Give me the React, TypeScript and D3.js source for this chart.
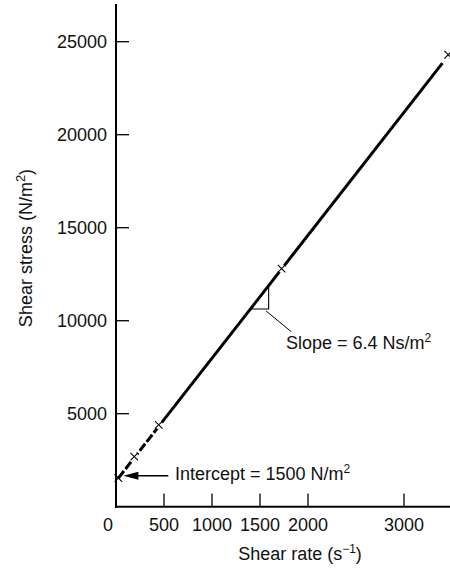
import React from "react";
import * as d3 from "d3";

const shearRate = [25, 190, 445, 1725, 3460];
const shearStress = [1540, 2690, 4400, 12800, 24300];
const fitRate = [25, 3400];
const fitStress = [1540, 23850];
const xTicks = [0, 500, 1000, 1500, 2000, 3000];
const yTicks = [5000, 10000, 15000, 20000, 25000];
const slopeRange = [1400, 1590];
const interceptValue = 1500;
const slopeValue = 6.4;

const W = 450;
const H = 568;
const FONT = "'Liberation Sans', Arial, Helvetica, sans-serif";

export default function App() {
  const x = d3.scaleLinear().domain([0, 3000]).range([116, 404]);
  const y = d3.scaleLinear().domain([0, 25000]).range([506.7, 41.7]);
  const fit = d3.scaleLinear().domain(fitRate).range(fitStress);
  const line = d3
    .line<number>()
    .x((d) => x(d))
    .y((d) => y(fit(d)));

  const dashedPath = line([shearRate[0], shearRate[2]]) || "";
  const solidPath = line([shearRate[2], fitRate[1]]) || "";

  const tx1 = x(slopeRange[0]);
  const tx2 = x(slopeRange[1]);
  const ty1 = y(fit(slopeRange[0]));
  const ty2 = y(fit(slopeRange[1]));

  const p0x = x(shearRate[0]);
  const p0y = y(shearStress[0]);
  const arrowY = p0y - 2.3;
  const tipX = p0x + 5;
  const cs = 3.8;

  return (
    <svg
      width={W}
      height={H}
      style={{ position: "absolute", left: 0, top: 0, background: "#fff" }}
      fontFamily={FONT}
    >
      {/* axes */}
      <line x1={116} y1={4} x2={116} y2={507.7} stroke="#000" strokeWidth={2} />
      <line x1={115} y1={506.7} x2={450} y2={506.7} stroke="#000" strokeWidth={2} />

      {yTicks.map((t) => (
        <g key={"y" + t}>
          <line x1={116} x2={129} y1={y(t)} y2={y(t)} stroke="#000" strokeWidth={1.3} />
          <text x={107} y={y(t) + 6.5} textAnchor="end" fontSize={18} fill="#111">
            {t}
          </text>
        </g>
      ))}
      {xTicks.map((t, i) => (
        <g key={"x" + t}>
          {t !== 0 && (
            <line x1={x(t)} x2={x(t)} y1={506.7} y2={493.5} stroke="#000" strokeWidth={1.3} />
          )}
          <text
            x={x(t) + (i === 0 ? -8 : 0)}
            y={530.7}
            textAnchor="middle"
            fontSize={18}
            fill="#111"
          >
            {t}
          </text>
        </g>
      ))}

      {/* axis titles */}
      <text x={300} y={560} textAnchor="middle" fontSize={18} fill="#111">
        Shear rate (s
        <tspan fontSize={12} dy={-7}>−1</tspan>
        <tspan dy={7}>)</tspan>
      </text>
      <text
        transform="translate(32,248) rotate(-90)"
        textAnchor="middle"
        fontSize={18}
        fill="#111"
      >
        Shear stress (N/m
        <tspan fontSize={13} dy={-7}>2</tspan>
        <tspan dy={7}>)</tspan>
      </text>

      {/* fitted line */}
      <path d={dashedPath} stroke="#000" strokeWidth={3} fill="none" strokeDasharray="9,2.5" />
      <path d={solidPath} stroke="#000" strokeWidth={3} fill="none" />

      {/* gaps and markers */}
      {shearRate.map((r, i) => (
        <g key={"m" + i}>
          {i > 0 && i < 4 && (
            <circle cx={x(r)} cy={y(shearStress[i])} r={4.2} fill="#fff" />
          )}
          <path
            d={`M${x(r) - cs},${y(shearStress[i]) - cs}L${x(r) + cs},${y(shearStress[i]) + cs}M${x(r) - cs},${y(shearStress[i]) + cs}L${x(r) + cs},${y(shearStress[i]) - cs}`}
            stroke="#000"
            strokeWidth={1.1}
            fill="none"
          />
        </g>
      ))}

      {/* slope triangle */}
      <path
        d={`M${tx1},${ty1}L${tx2},${ty1}L${tx2},${ty2}`}
        stroke="#000"
        strokeWidth={1.1}
        fill="none"
      />
      <line x1={tx2 - 2.5} y1={ty1 + 2} x2={tx2 + 22.5} y2={ty1 + 22.6} stroke="#000" strokeWidth={1} />
      <text x={286} y={349} fontSize={18} fill="#111">
        Slope = {slopeValue} Ns/m
        <tspan fontSize={12} dy={-7}>2</tspan>
      </text>

      {/* intercept annotation */}
      <line x1={tipX + 10} y1={arrowY} x2={168.3} y2={arrowY} stroke="#000" strokeWidth={1.3} />
      <path
        d={`M${tipX},${arrowY}L${tipX + 15},${arrowY - 4}L${tipX + 15},${arrowY + 4}Z`}
        fill="#000"
      />
      <text x={175} y={480} fontSize={18} fill="#111">
        Intercept = {interceptValue} N/m
        <tspan fontSize={12} dy={-7}>2</tspan>
      </text>
    </svg>
  );
}
